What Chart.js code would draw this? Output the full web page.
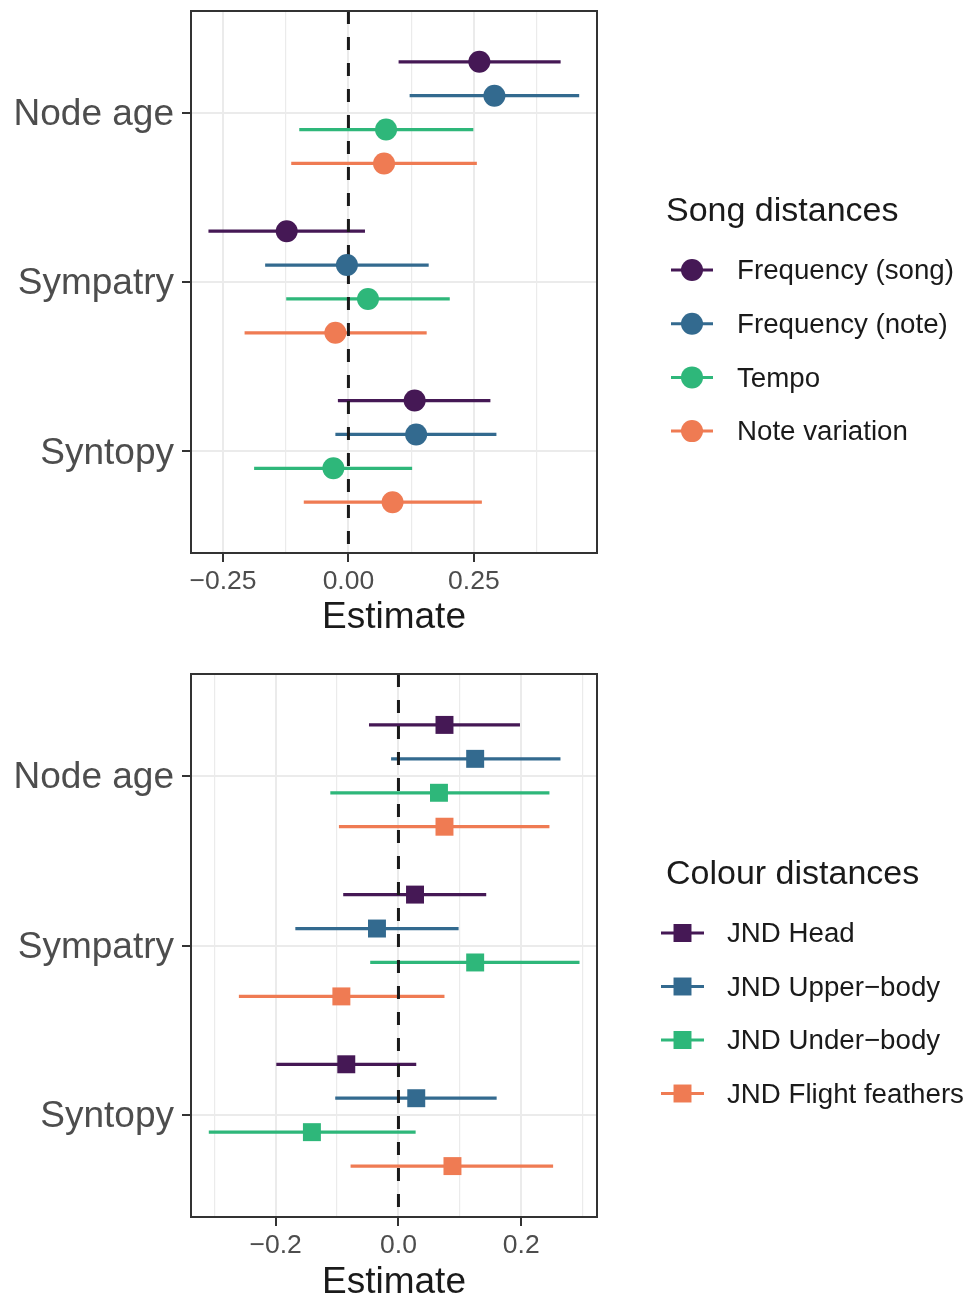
<!DOCTYPE html>
<html>
<head>
<meta charset="utf-8">
<script src="https://cdn.jsdelivr.net/npm/chart.js@4.4.1/dist/chart.umd.min.js"></script>
<style>
  html, body { margin: 0; padding: 0; background: #fff; overflow: hidden; }
  .panel { position: absolute; left: 0; width: 968px; }
  #songPanel { top: 0; height: 660px; }
  #colourPanel { top: 660px; height: 639px; }
</style>
</head>
<body>
<div class="panel" id="songPanel"><canvas id="songChart"></canvas></div>
<div class="panel" id="colourPanel"><canvas id="colourChart"></canvas></div>
<script>
// Predictors, top to bottom
const predictors = ['Node age', 'Sympatry', 'Syntopy'];
const seriesColors = ['#451855', '#336A8F', '#2EB77A', '#EF7B53'];

// Song distances: one row per series, columns = Node age, Sympatry, Syntopy
const songSeries = ['Frequency (song)', 'Frequency (note)', 'Tempo', 'Note variation'];
const songEst = [
  [0.261, -0.123, 0.132],
  [0.291, -0.003, 0.135],
  [0.075, 0.039, -0.030],
  [0.071, -0.026, 0.088]
];
const songLow = [
  [0.100, -0.279, -0.021],
  [0.122, -0.166, -0.026],
  [-0.098, -0.124, -0.188],
  [-0.114, -0.207, -0.089]
];
const songHigh = [
  [0.423, 0.033, 0.283],
  [0.460, 0.160, 0.295],
  [0.249, 0.202, 0.127],
  [0.256, 0.156, 0.266]
];
const songTicks = [-0.25, 0, 0.25];
const songTickLabels = ['\u22120.25', '0.00', '0.25'];
const songMinorTicks = [-0.125, 0.125, 0.375];

// Colour distances
const colourSeries = ['JND Head', 'JND Upper\u2212body', 'JND Under\u2212body', 'JND Flight feathers'];
const colourEst = [
  [0.075, 0.027, -0.085],
  [0.125, -0.035, 0.029],
  [0.066, 0.125, -0.141],
  [0.075, -0.093, 0.088]
];
const colourLow = [
  [-0.048, -0.090, -0.199],
  [-0.012, -0.168, -0.103],
  [-0.111, -0.046, -0.309],
  [-0.097, -0.260, -0.078]
];
const colourHigh = [
  [0.198, 0.143, 0.029],
  [0.264, 0.098, 0.160],
  [0.246, 0.295, 0.028],
  [0.246, 0.075, 0.252]
];
const colourTicks = [-0.2, 0, 0.2];
const colourTickLabels = ['\u22120.2', '0.0', '0.2'];
const colourMinorTicks = [-0.3, -0.1, 0.1, 0.3];

const FONT = '"Liberation Sans", Arial, Helvetica, sans-serif';
const Y_MIN = 0.4, Y_MAX = 3.6;
const DODGE = 0.2;

// panel border drawn on top, like ggplot's panel.border
const frameBorder = {
  id: 'frameBorder',
  afterDraw(chart) {
    const {ctx, chartArea: a} = chart;
    ctx.save();
    ctx.strokeStyle = '#333333';
    ctx.lineWidth = 2;
    ctx.strokeRect(a.left, a.top, a.right - a.left, a.bottom - a.top);
    ctx.restore();
  }
};

// legend to the right with line + marker keys
const sideLegend = {
  id: 'sideLegend',
  afterDraw(chart, args, opts) {
    const ctx = chart.ctx;
    ctx.save();
    ctx.fillStyle = '#1A1A1A';
    ctx.font = '34px ' + FONT;
    ctx.textBaseline = 'alphabetic';
    ctx.fillText(opts.title, opts.x, opts.titleY);
    opts.labels.forEach((lab, i) => {
      const y = opts.firstY + i * opts.stepY;
      ctx.strokeStyle = opts.colors[i];
      ctx.lineWidth = 3;
      ctx.beginPath();
      ctx.moveTo(opts.lineX0, y);
      ctx.lineTo(opts.lineX1, y);
      ctx.stroke();
      ctx.fillStyle = opts.colors[i];
      Chart.helpers.drawPoint(ctx, {pointStyle: opts.pointStyle, radius: opts.radius, rotation: 0, borderWidth: 0},
        (opts.lineX0 + opts.lineX1) / 2, y);
      ctx.fillStyle = '#1A1A1A';
      ctx.font = '27.7px ' + FONT;
      ctx.textBaseline = 'middle';
      ctx.fillText(lab, opts.textX, y + 1.5);
    });
    ctx.restore();
  }
};

function makeForest(canvasId, cfg) {
  const datasets = [];
  cfg.series.forEach((name, i) => {
    const pts = [];
    const bars = [];
    predictors.forEach((p, j) => {
      const y = j + 1 + (i - 1.5) * DODGE;
      pts.push({x: cfg.est[i][j], y: y});
      bars.push({x: cfg.low[i][j], y: y}, {x: cfg.high[i][j], y: y}, {x: null, y: null});
    });
    datasets.push({
      label: name,
      data: pts,
      order: 0,
      pointStyle: cfg.pointStyle,
      pointRadius: cfg.pointRadius,
      backgroundColor: seriesColors[i],
      borderWidth: 0
    });
    datasets.push({
      label: name + ' interval',
      data: bars,
      showLine: true,
      spanGaps: false,
      order: 2,
      borderColor: seriesColors[i],
      borderWidth: 3.2,
      pointRadius: 0
    });
  });
  // dashed reference line at zero
  datasets.push({
    label: 'zero',
    data: [{x: 0, y: Y_MIN}, {x: 0, y: Y_MAX}],
    showLine: true,
    order: 1,
    borderColor: '#1A1A1A',
    borderWidth: 3,
    borderDash: [13, 13],
    pointRadius: 0
  });

  const isMajor = v => cfg.ticks.indexOf(v) >= 0;

  return new Chart(document.getElementById(canvasId), {
    type: 'scatter',
    data: {datasets: datasets},
    plugins: [frameBorder, sideLegend],
    options: {
      responsive: true,
      maintainAspectRatio: false,
      animation: false,
      events: [],
      layout: {padding: {left: 0, top: cfg.padTop, right: 371, bottom: 0}},
      plugins: {
        legend: {display: false},
        tooltip: {enabled: false},
        sideLegend: cfg.legend
      },
      scales: {
        x: {
          type: 'linear',
          min: cfg.xMin,
          max: cfg.xMax,
          afterBuildTicks: s => {
            s.ticks = cfg.ticks.concat(cfg.minorTicks).sort((a, b) => a - b).map(v => ({value: v}));
          },
          afterFit: s => {
            s.height = cfg.xAxisHeight;
            s.paddingLeft = 0;
            s.paddingRight = 0;
          },
          ticks: {
            autoSkip: false,
            maxRotation: 0,
            padding: 4,
            color: '#4D4D4D',
            font: {family: FONT, size: 26.5},
            callback: v => {
              const k = cfg.ticks.indexOf(v);
              return k >= 0 ? cfg.tickLabels[k] : '';
            }
          },
          grid: {
            color: '#EBEBEB',
            lineWidth: c => (c.tick && isMajor(c.tick.value)) ? 2 : 1.2,
            tickColor: c => (c.tick && isMajor(c.tick.value)) ? '#333333' : 'rgba(0,0,0,0)',
            tickLength: 9,
            tickWidth: 2
          },
          border: {display: false},
          title: {
            display: true,
            text: 'Estimate',
            color: '#1A1A1A',
            font: {family: FONT, size: 37, lineHeight: 1},
            padding: {top: 0, bottom: cfg.titlePad}
          }
        },
        y: {
          type: 'linear',
          min: Y_MIN,
          max: Y_MAX,
          reverse: true,
          afterBuildTicks: s => {
            s.ticks = predictors.map((p, j) => ({value: j + 1}));
          },
          afterFit: s => {
            s.width = 191;
            s.paddingTop = 0;
            s.paddingBottom = 0;
          },
          ticks: {
            autoSkip: false,
            padding: 8,
            labelOffset: 2,
            color: '#4D4D4D',
            font: {family: FONT, size: 37},
            callback: v => predictors[v - 1]
          },
          grid: {
            color: '#EBEBEB',
            lineWidth: 2,
            tickColor: '#333333',
            tickLength: 9,
            tickWidth: 2
          },
          border: {display: false}
        }
      }
    }
  });
}

makeForest('songChart', {
  series: songSeries,
  est: songEst, low: songLow, high: songHigh,
  ticks: songTicks, tickLabels: songTickLabels, minorTicks: songMinorTicks,
  xMin: -0.3138, xMax: 0.4955,
  pointStyle: 'circle', pointRadius: 11,
  padTop: 11, xAxisHeight: 107, titlePad: 24,
  legend: {
    title: 'Song distances', x: 666, titleY: 221,
    labels: songSeries, colors: seriesColors,
    firstY: 270, stepY: 53.7,
    lineX0: 671, lineX1: 713, textX: 737,
    pointStyle: 'circle', radius: 11
  }
});

makeForest('colourChart', {
  series: colourSeries,
  est: colourEst, low: colourLow, high: colourHigh,
  ticks: colourTicks, tickLabels: colourTickLabels, minorTicks: colourMinorTicks,
  xMin: -0.338, xMax: 0.3235,
  pointStyle: 'rect', pointRadius: 12.7,
  padTop: 14, xAxisHeight: 82, titlePad: -2,
  legend: {
    title: 'Colour distances', x: 666, titleY: 224,
    labels: colourSeries, colors: seriesColors,
    firstY: 273, stepY: 53.5,
    lineX0: 661, lineX1: 704, textX: 727,
    pointStyle: 'rect', radius: 12.7
  }
});
</script>
</body>
</html>
